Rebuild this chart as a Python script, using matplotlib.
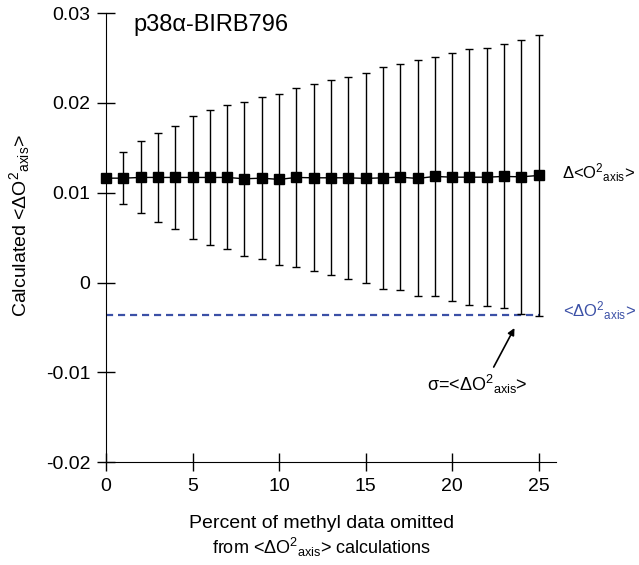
import numpy as np
import matplotlib
matplotlib.use("Agg")
import matplotlib.pyplot as plt

plt.rcParams['font.family'] = ['Liberation Sans', 'DejaVu Sans']
plt.rcParams['mathtext.default'] = 'regular'

# percent of methyl data omitted
pct = list(range(26))
# mean calculated <dO2axis>
mean_vals = [0.01162, 0.01162, 0.01170, 0.01170, 0.01170, 0.01170, 0.01170, 0.01170,
             0.01155, 0.01162, 0.01148, 0.01170, 0.01166, 0.01166, 0.01166, 0.01159,
             0.01166, 0.01173, 0.01159, 0.01181, 0.01173, 0.01173, 0.01173, 0.01181,
             0.01177, 0.01192]
# standard deviation (error bars)
sd_vals = [0.0, 0.00286, 0.00400, 0.00497, 0.00571, 0.00686, 0.00756, 0.00801,
           0.00860, 0.00905, 0.00949, 0.00997, 0.01042, 0.01083, 0.01124, 0.01168,
           0.01235, 0.01258, 0.01313, 0.01327, 0.01380, 0.01421, 0.01439, 0.01469,
           0.01524, 0.01561]
sigma_ref = -0.0036

blue = '#3b50a6'

fig = plt.figure(figsize=(6.39, 5.65), dpi=100)
ax = fig.add_axes([106/639, 1 - 462.3/565, 450/639, (462.3 - 13)/565])

ax.plot([0, 25], [sigma_ref, sigma_ref], color=blue, lw=1.6, dashes=(3.2, 2.2), zorder=1)
ax.errorbar(pct, mean_vals, yerr=sd_vals, fmt='-s', color='black', ms=7, lw=1,
            elinewidth=1, capsize=3, capthick=1, clip_on=False, zorder=3)

ax.set_xlim(0, 26)
ax.set_ylim(-0.02, 0.03)
ax.set_xticks([0, 5, 10, 15, 20, 25])
ax.set_yticks([-0.02, -0.01, 0, 0.01, 0.02, 0.03])
ax.set_yticklabels(['-0.02', '-0.01', '0', '0.01', '0.02', '0.03'])
ax.spines['top'].set_visible(False)
ax.spines['right'].set_visible(False)
ax.tick_params(direction='inout', length=12.5, width=1, labelsize=14, pad=5)

ax.text(1.56, 0.02797, 'p38α-BIRB796', fontsize=17, va='baseline')
ax.text(26.36, 0.01159, r'Δ<O$^2$$_{axis}$>', fontsize=12, va='baseline', clip_on=False)
ax.text(26.42, -0.0038, r'<ΔO$^2$$_{axis}$>', fontsize=12, va='baseline', color=blue, clip_on=False)

ax.text(18.55, -0.01203, r'σ=<ΔO$^2$$_{axis}$>', fontsize=13, va='baseline')
ax.annotate('', xy=(23.6, -0.00506), xytext=(22.4, -0.0094),
            arrowprops=dict(arrowstyle='-|>', color='black', lw=1.2, mutation_scale=10,
                            shrinkA=0, shrinkB=0))

fig.text(322/639, 1 - 524/565, 'Percent of methyl data omitted',
         ha='center', va='center', fontsize=14)
fig.text(322/639, 1 - 547/565, 'from <ΔO$^2$$_{axis}$> calculations',
         ha='center', va='center', fontsize=13)
fig.text(20/639, 1 - 317/565, r'Calculated <ΔO$^2$$_{axis}$>', rotation=90,
         ha='center', va='bottom', fontsize=14)

fig.savefig('out.png', dpi=100)
